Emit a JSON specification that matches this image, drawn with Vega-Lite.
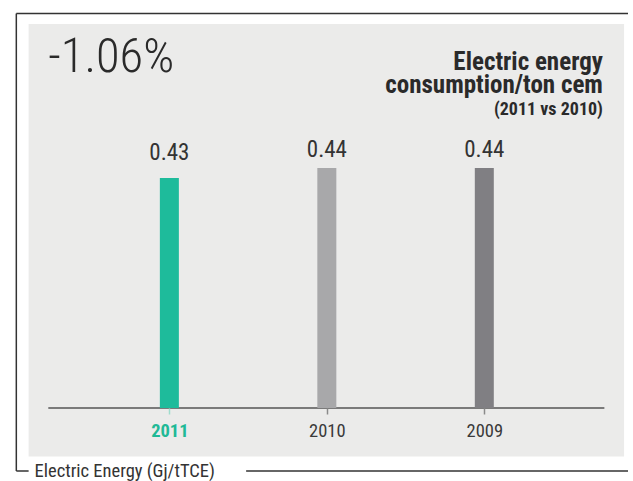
{
  "$schema": "https://vega.github.io/schema/vega-lite/v6.json",
  "width": 633,
  "height": 481,
  "autosize": {"type": "none"},
  "padding": 0,
  "background": "white",
  "config": {"view": {"stroke": null}, "font": "Roboto Condensed, DejaVu Sans Condensed, sans-serif", "axis": {"grid": false}},
  "datasets": {
    "energy": [
      {"year": 2011, "value": 0.43, "label": "0.43"},
      {"year": 2010, "value": 0.44, "label": "0.44"},
      {"year": 2009, "value": 0.44, "label": "0.44"}
    ],
    "one": [{}]
  },
  "layer": [
    {
      "data": {"name": "one"},
      "mark": {"type": "rect", "color": "#ebebea"},
      "encoding": {
        "x": {"datum": 2011.89375, "type": "quantitative", "scale": {"domain": [2008.0875, 2012.04375], "reverse": true, "nice": false, "zero": false}},
        "x2": {"datum": 2008.1125},
        "y": {"datum": 0.584, "type": "quantitative", "scale": {"domain": [0.127, 0.608], "nice": false, "zero": false}, "axis": null},
        "y2": {"datum": 0.1515}
      }
    },
    {
      "data": {"name": "one"},
      "mark": {"type": "rule", "color": "#333333", "strokeWidth": 1.5},
      "encoding": {
        "x": {"datum": 2011.971875, "type": "quantitative"},
        "y": {"datum": 0.5945, "type": "quantitative", "axis": null},
        "y2": {"datum": 0.137}
      }
    },
    {
      "data": {"name": "one"},
      "mark": {"type": "rule", "color": "#333333", "strokeWidth": 1.5},
      "encoding": {
        "x": {"datum": 2011.971875, "type": "quantitative"},
        "x2": {"datum": 2008.0875},
        "y": {"datum": 0.5945, "type": "quantitative", "axis": null}
      }
    },
    {
      "data": {"name": "one"},
      "mark": {"type": "rule", "color": "#333333", "strokeWidth": 1.5},
      "encoding": {
        "x": {"datum": 2011.971875, "type": "quantitative"},
        "x2": {"datum": 2011.89375},
        "y": {"datum": 0.137, "type": "quantitative", "axis": null}
      }
    },
    {
      "data": {"name": "one"},
      "mark": {"type": "rule", "color": "#333333", "strokeWidth": 1.5},
      "encoding": {
        "x": {"datum": 2010.5125, "type": "quantitative"},
        "x2": {"datum": 2008.0875},
        "y": {"datum": 0.137, "type": "quantitative", "axis": null}
      }
    },
    {
      "data": {"name": "one"},
      "mark": {"type": "rule", "color": "#555555", "strokeWidth": 1.5},
      "encoding": {
        "x": {"datum": 2011.76875, "type": "quantitative"},
        "x2": {"datum": 2008.2375},
        "y": {"datum": 0.2, "type": "quantitative", "axis": null}
      }
    },
    {
      "data": {"name": "energy"},
      "mark": {"type": "bar", "width": 19},
      "encoding": {
        "x": {
          "field": "year", "type": "quantitative",
          "axis": {
            "orient": "bottom", "offset": -73, "domain": false, "values": [2011, 2010, 2009], "format": "d", "title": null,
            "zindex": 1,
            "tickSize": 6, "tickWidth": 1.5,
            "tickColor": {"condition": {"test": "datum.value == 2011", "value": "#9fdccd"}, "value": "#8a8a8a"},
            "labelColor": {"condition": {"test": "datum.value == 2011", "value": "#20b996"}, "value": "#3a3a3a"},
            "labelFontWeight": {"condition": {"test": "datum.value == 2011", "value": "bold"}, "value": "normal"},
            "labelFontSize": 18.5, "labelPadding": 7, "grid": false
          }
        },
        "y": {"field": "value", "type": "quantitative", "axis": null},
        "y2": {"datum": 0.2},
        "color": {"field": "year", "type": "nominal", "scale": {"domain": [2011, 2010, 2009], "range": ["#1ebb9b", "#a8a8aa", "#807f83"]}, "legend": null}
      }
    },
    {
      "data": {"name": "energy"},
      "transform": [{"filter": "datum.year == 2011"}],
      "mark": {"type": "text", "fontSize": 23, "color": "#333333", "baseline": "alphabetic", "dy": -18},
      "encoding": {
        "x": {"field": "year", "type": "quantitative"},
        "y": {"field": "value", "type": "quantitative", "axis": null},
        "text": {"field": "label"}
      }
    },
    {
      "data": {"name": "energy"},
      "transform": [{"filter": "datum.year != 2011"}],
      "mark": {"type": "text", "fontSize": 23, "color": "#333333", "baseline": "alphabetic", "dy": -11},
      "encoding": {
        "x": {"field": "year", "type": "quantitative"},
        "y": {"field": "value", "type": "quantitative", "axis": null},
        "text": {"field": "label"}
      }
    },
    {
      "data": {"name": "one"},
      "mark": {"type": "text", "fontSize": 48.5, "fontWeight": 300, "color": "#2a2a2a", "align": "left", "baseline": "alphabetic", "text": "-1.06%"},
      "encoding": {
        "x": {"datum": 2011.76875, "type": "quantitative"},
        "y": {"datum": 0.536, "type": "quantitative", "axis": null}
      }
    },
    {
      "data": {"name": "one"},
      "mark": {"type": "text", "fontSize": 25, "fontWeight": "bold", "color": "#2a2a2a", "align": "right", "baseline": "alphabetic", "lineHeight": 23.5, "text": ["Electric energy", "consumption/ton cem"]},
      "encoding": {
        "x": {"datum": 2008.246875, "type": "quantitative"},
        "y": {"datum": 0.5385, "type": "quantitative", "axis": null}
      }
    },
    {
      "data": {"name": "one"},
      "mark": {"type": "text", "fontSize": 18, "fontWeight": "bold", "color": "#2a2a2a", "align": "right", "baseline": "alphabetic", "text": "(2011 vs 2010)"},
      "encoding": {
        "x": {"datum": 2008.246875, "type": "quantitative"},
        "y": {"datum": 0.4935, "type": "quantitative", "axis": null}
      }
    },
    {
      "data": {"name": "one"},
      "mark": {"type": "text", "fontSize": 18.5, "color": "#333333", "align": "left", "baseline": "alphabetic", "text": "Electric Energy (Gj/tTCE)"},
      "encoding": {
        "x": {"datum": 2011.85625, "type": "quantitative"},
        "y": {"datum": 0.131, "type": "quantitative", "axis": null}
      }
    }
  ]
}
